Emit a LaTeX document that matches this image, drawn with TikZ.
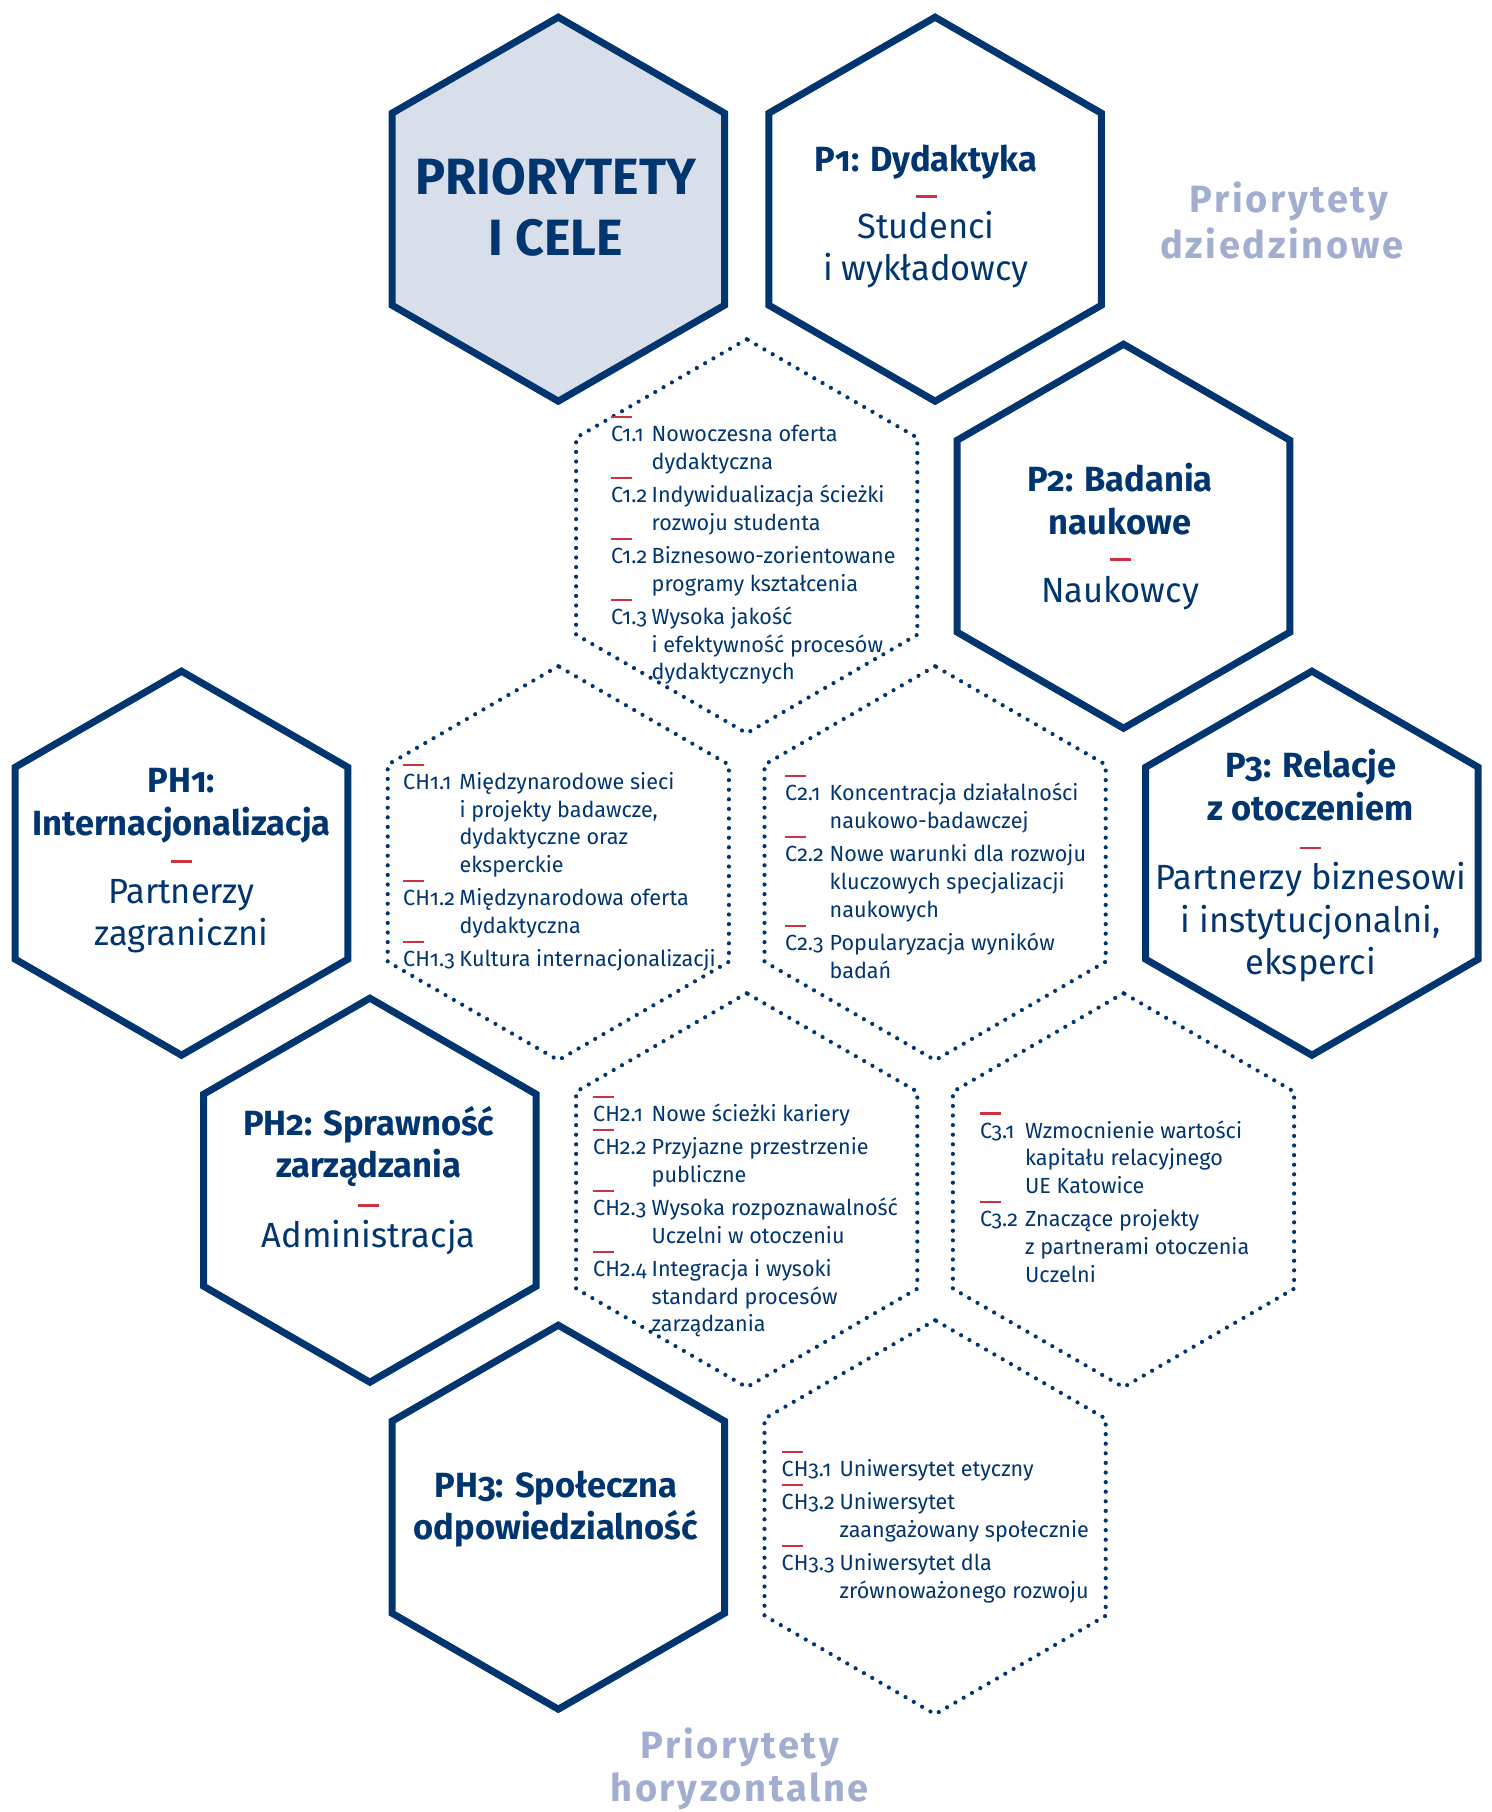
\documentclass[tikz,border=0pt]{standalone}
\usepackage{fontspec}
\setmainfont{Fira Sans}[FakeStretch=0.985, Numbers=OldStyle]
\newfontfamily\sidefam{Fira Sans}[LetterSpace=7, Numbers=OldStyle]
\usetikzlibrary{shapes.geometric}
\definecolor{hexblue}{HTML}{00356F}
\definecolor{hexfill}{HTML}{D8DEEA}
\definecolor{lightblue}{HTML}{A2AED0}
\definecolor{accentred}{HTML}{CC3340}
\newcommand\bigfont{\fontsize{35}{43}\selectfont}
\newcommand\smallfont{\fontsize{21.9}{27.7}\selectfont}
\newcommand\headfont{\fontsize{51}{60}\selectfont\bfseries}
\newcommand\sidefont{\sidefam\fontsize{38}{46}\selectfont\bfseries}
\newcommand\itm[2]{\smash{\rlap{\color{accentred}\rule[23.4pt]{21pt}{2.2pt}}}\makebox[#1][l]{#2}}
\tikzset{
  hexsolid/.style={regular polygon, regular polygon sides=6, rotate=30, minimum size=384pt, inner sep=0pt, draw=hexblue, line width=7pt},
  hexdots/.style={regular polygon, regular polygon sides=6, rotate=30, minimum size=394pt, inner sep=0pt, draw=hexblue, line width=4.2pt, line cap=round, dash pattern=on 0pt off 9.6pt},
  bigtxt/.style={anchor=base, inner sep=0pt, text=hexblue, font=\bigfont},
  bigtitle/.style={anchor=base, inner sep=0pt, text=hexblue, font=\bigfont\bfseries},
  smalltxt/.style={anchor=base west, inner sep=0pt, text=hexblue, font=\smallfont},
  sidelabel/.style={anchor=base, inner sep=0pt, text=lightblue, font=\sidefont},
  reddash/.style={fill=accentred, minimum width=21pt, minimum height=2.2pt, inner sep=0pt, outer sep=0pt},
}
\begin{document}
\begin{tikzpicture}[x=1pt,y=-1pt]
\useasboundingbox (0,0) rectangle (1491,1812);
% hexagons
\node[hexsolid, fill=hexfill] (main) at (558.3,209.2) {};
\node[hexsolid] (p1) at (935.1,209.2) {};
\node[hexdots] (c1) at (746.7,536.2) {};
\node[hexsolid] (p2) at (1123.5,536.2) {};
\node[hexsolid] (ph1) at (181.5,863.2) {};
\node[hexdots] (ch1) at (558.3,863.2) {};
\node[hexdots] (c2) at (935.1,863.2) {};
\node[hexsolid] (p3) at (1311.9,863.2) {};
\node[hexsolid] (ph2) at (369.9,1190.2) {};
\node[hexdots] (ch2) at (746.7,1190.2) {};
\node[hexdots] (c3) at (1123.5,1190.2) {};
\node[hexsolid] (ph3) at (558.3,1517.2) {};
\node[hexdots] (ch3) at (935.1,1517.2) {};

% main title
\node[anchor=base, inner sep=0pt, text=hexblue, font=\headfont] (mt1) at (556,194.5) {PRIORYTETY};
\node[anchor=base, inner sep=0pt, text=hexblue, font=\headfont] (mt2) at (556,255.5) {I CELE};

% P1
\node[bigtitle] (p1a) at (926,171.1) {P1: Dydaktyka};
\node[reddash] (p1d) at (926,196.5) {};
\node[bigtxt] (p1b) at (926,238.1) {Studenci};
\node[bigtxt] (p1c) at (926,280.9) {i wykładowcy};

% P2
\node[bigtitle] (p2a) at (1120,491.2) {P2: Badania};
\node[bigtitle] (p2b) at (1120,534) {naukowe};
\node[reddash] (p2d) at (1120,559.4) {};
\node[bigtxt] (p2c) at (1120,602.2) {Naukowcy};

% P3
\node[bigtitle] (p3a) at (1310.7,777.5) {P3: Relacje};
\node[bigtitle] (p3b) at (1310.7,820) {z otoczeniem};
\node[reddash] (p3d) at (1310.7,847.6) {};
\node[bigtxt] (p3c) at (1310.7,889.5) {Partnerzy biznesowi};
\node[bigtxt] (p3e) at (1310.7,932.2) {i instytucjonalni,};
\node[bigtxt] (p3f) at (1310.7,974.2) {eksperci};

% PH1
\node[bigtitle] (ph1a) at (181.5,792.8) {PH1:};
\node[bigtitle] (ph1b) at (181.5,835.3) {Internacjonalizacja};
\node[reddash] (ph1d) at (181.5,861.5) {};
\node[bigtxt] (ph1c) at (181.5,903) {Partnerzy};
\node[bigtxt] (ph1e) at (181.5,945.7) {zagraniczni};

% PH2
\node[bigtitle] (ph2a) at (368.7,1135) {PH2: Sprawność};
\node[bigtitle] (ph2b) at (368.7,1177.8) {zarządzania};
\node[reddash] (ph2d) at (368.7,1205.5) {};
\node[bigtxt] (ph2c) at (368.7,1247.1) {Administracja};

% PH3
\node[bigtitle] (ph3a) at (556,1497.9) {PH3: Społeczna};
\node[bigtitle] (ph3b) at (556,1539.5) {odpowiedzialność};

% side labels
\node[sidelabel] (sl1) at (1288.7,212.7) {Priorytety};
\node[sidelabel] (sl2) at (1281.8,258.3) {dziedzinowe};
\node[sidelabel] (sl3) at (739.7,1758.3) {Priorytety};
\node[sidelabel] (sl4) at (739.7,1801) {horyzontalne};

% C1
\node[smalltxt] (c1t) at (611,441.6) {\begin{tabular}[t]{@{}l@{}}
\itm{40.5pt}{C1.1}Nowoczesna oferta\\
\hspace*{40.5pt}dydaktyczna\\[5.5pt]
\itm{40.5pt}{C1.2}Indywidualizacja ścieżki\\
\hspace*{40.5pt}rozwoju studenta\\[5.5pt]
\itm{40.5pt}{C1.2}Biznesowo-zorientowane\\
\hspace*{40.5pt}programy kształcenia\\[5.5pt]
\itm{40.5pt}{C1.3}Wysoka jakość\\
\hspace*{40.5pt}i efektywność procesów\\
\hspace*{40.5pt}dydaktycznych
\end{tabular}};

% CH1
\node[smalltxt] (ch1t) at (403,789.3) {\begin{tabular}[t]{@{}l@{}}
\itm{56.3pt}{CH1.1}Międzynarodowe sieci\\
\hspace*{56.3pt}i projekty badawcze,\\
\hspace*{56.3pt}dydaktyczne oraz\\
\hspace*{56.3pt}eksperckie\\[5.5pt]
\itm{56.3pt}{CH1.2}Międzynarodowa oferta\\
\hspace*{56.3pt}dydaktyczna\\[5.5pt]
\itm{56.3pt}{CH1.3}Kultura internacjonalizacji
\end{tabular}};

% C2
\node[smalltxt] (c2t) at (785,800.8) {\begin{tabular}[t]{@{}l@{}}
\itm{44.5pt}{C2.1}Koncentracja działalności\\
\hspace*{44.5pt}naukowo-badawczej\\[5.5pt]
\itm{44.5pt}{C2.2}Nowe warunki dla rozwoju\\
\hspace*{44.5pt}kluczowych specjalizacji\\
\hspace*{44.5pt}naukowych\\[5.5pt]
\itm{44.5pt}{C2.3}Popularyzacja wyników\\
\hspace*{44.5pt}badań
\end{tabular}};

% CH2
\node[smalltxt] (ch2t) at (593,1121.5) {\begin{tabular}[t]{@{}l@{}}
\itm{58.5pt}{CH2.1}Nowe ścieżki kariery\\[5.5pt]
\itm{58.5pt}{CH2.2}Przyjazne przestrzenie\\
\hspace*{58.5pt}publiczne\\[5.5pt]
\itm{58.5pt}{CH2.3}Wysoka rozpoznawalność\\
\hspace*{58.5pt}Uczelni w otoczeniu\\[5.5pt]
\itm{58.5pt}{CH2.4}Integracja i wysoki\\
\hspace*{58.5pt}standard procesów\\
\hspace*{58.5pt}zarządzania
\end{tabular}};

% C3
\node[smalltxt] (c3t) at (980,1138) {\begin{tabular}[t]{@{}l@{}}
\itm{45pt}{C3.1}Wzmocnienie wartości\\
\hspace*{45pt}kapitału relacyjnego\\
\hspace*{45pt}UE Katowice\\[5.5pt]
\itm{45pt}{C3.2}Znaczące projekty\\
\hspace*{45pt}z partnerami otoczenia\\
\hspace*{45pt}Uczelni
\end{tabular}};

% CH3
\node[smalltxt] (ch3t) at (781.5,1476.5) {\begin{tabular}[t]{@{}l@{}}
\itm{58pt}{CH3.1}Uniwersytet etyczny\\[5.5pt]
\itm{58pt}{CH3.2}Uniwersytet\\
\hspace*{58pt}zaangażowany społecznie\\[5.5pt]
\itm{58pt}{CH3.3}Uniwersytet dla\\
\hspace*{58pt}zrównoważonego rozwoju
\end{tabular}};
\end{tikzpicture}
\end{document}
